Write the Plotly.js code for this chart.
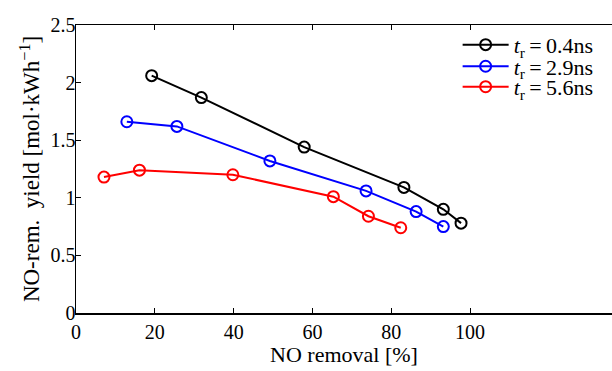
<!DOCTYPE html>
<html>
<head>
<meta charset="utf-8">
<script src="https://cdn.plot.ly/plotly-3.0.1.min.js"></script>
<style>
  html, body { margin: 0; padding: 0; background: #fff; }
  #chart { width: 612px; height: 371px; }
</style>
</head>
<body>
<div id="chart"></div>
<script>
// NO removal [%] and removal yield [mol/kWh] for three rise times
const removal04 = [19.2, 31.8, 57.9, 83.2, 93.2, 97.7];
const yield04   = [2.06, 1.87, 1.44, 1.09, 0.90, 0.78];
const removal29 = [12.9, 25.6, 49.2, 73.6, 86.3, 93.2];
const yield29   = [1.66, 1.62, 1.32, 1.06, 0.88, 0.75];
const removal56 = [7.1, 16.1, 39.8, 65.3, 74.2, 82.4];
const yield56   = [1.18, 1.24, 1.20, 1.01, 0.84, 0.74];
const seriesNames = [
  '<i>t</i><sub>r</sub>\u2009=\u20090.4ns',
  '<i>t</i><sub>r</sub>\u2009=\u20092.9ns',
  '<i>t</i><sub>r</sub>\u2009=\u20095.6ns'
];
const xTicks = [0, 20, 40, 60, 80, 100];
const yTicks = [0, 0.5, 1, 1.5, 2, 2.5];
const yTickText = ['0', '0.5', '1', '1.5', '2', '2.5'];

const serif = 'Liberation Serif, DejaVu Serif, serif';

function series(x, y, name, color, legendId) {
  return {
    x: x, y: y, name: name, type: 'scatter', mode: 'lines+markers',
    legend: legendId,
    line: { color: color, width: 2 },
    marker: { symbol: 'circle-open', size: 11, color: color, line: { width: 2, color: color } }
  };
}

const data = [
  series(removal04, yield04, seriesNames[0], '#000000', 'legend'),
  series(removal29, yield29, seriesNames[1], '#0000ff', 'legend2'),
  series(removal56, yield56, seriesNames[2], '#ff0000', 'legend3')
];

// one legend box per entry so the rows sit tightly stacked
function legendAt(yc) {
  return {
    x: 0.712, xanchor: 'left', y: yc, yanchor: 'middle',
    bgcolor: 'rgba(0,0,0,0)', borderwidth: 0,
    font: { family: serif, size: 22, color: '#000' },
    itemwidth: 46
  };
}

const layout = {
  width: 612, height: 371,
  margin: { l: 76, r: 0, t: 25, b: 58 },
  paper_bgcolor: '#fff', plot_bgcolor: '#fff',
  font: { family: serif, size: 20, color: '#000' },
  showlegend: true,
  legend: legendAt(0.931),
  legend2: legendAt(0.856),
  legend3: legendAt(0.785),
  xaxis: {
    range: [0, 136], tickvals: xTicks, ticktext: xTicks.map(String),
    ticks: 'inside', ticklen: 5, tickwidth: 1, tickcolor: '#000',
    showline: true, linecolor: '#000', linewidth: 1.5, mirror: 'ticks',
    showgrid: false, zeroline: false,
    tickfont: { family: serif, size: 20 },
    title: { text: 'NO removal [%]', font: { family: serif, size: 22 }, standoff: 2 }
  },
  yaxis: {
    range: [0, 2.5], tickvals: yTicks, ticktext: yTickText,
    ticks: 'inside', ticklen: 5, tickwidth: 1, tickcolor: '#000',
    showline: true, linecolor: '#000', linewidth: 1.5, mirror: false,
    showgrid: false, zeroline: false, ticklabelstandoff: -5,
    tickfont: { family: serif, size: 20 },
    title: { text: 'NO-rem.  yield [mol·kWh<sup>−1</sup>]', font: { family: serif, size: 23 }, standoff: 4 }
  }
};

Plotly.newPlot('chart', data, layout, { displayModeBar: false, staticPlot: true });
</script>
</body>
</html>
